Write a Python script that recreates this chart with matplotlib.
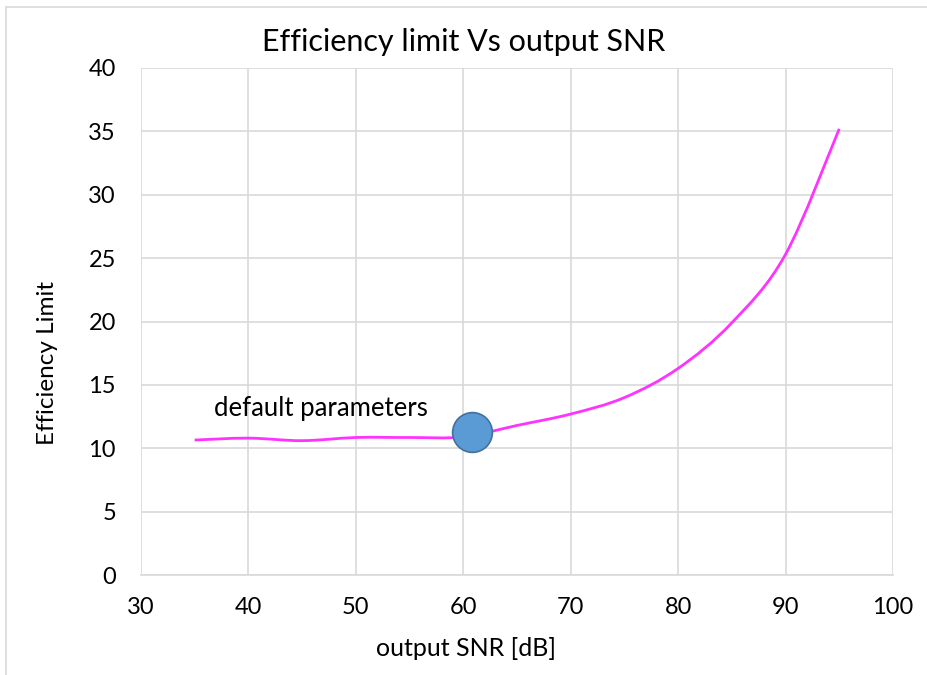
import numpy as np
import matplotlib
matplotlib.use("Agg")
import matplotlib.pyplot as plt
from matplotlib.path import Path
from matplotlib.patches import PathPatch, Rectangle

snr_db = [35, 40, 45, 50, 55, 60, 65, 70, 75, 80, 85, 90, 95]
eff_limit = [10.65, 10.8, 10.6, 10.85, 10.85, 10.9, 11.8, 12.7, 14.0,
             16.3, 19.9, 25.3, 35.2]
default_snr = [60.8]
default_eff = [11.3]

x_ticks = [30, 40, 50, 60, 70, 80, 90, 100]
y_ticks = [0, 5, 10, 15, 20, 25, 30, 35, 40]

INK = "#000000"
GRID = "#d9d9d9"
plt.rcParams.update({"font.family": ["Lato", "DejaVu Sans"]})


def smooth_path(x, y):
    # Excel-style smoothed line: cubic Bezier through every point
    p = np.column_stack([x, y]).astype(float)
    n = len(p)
    verts, codes = [p[0]], [Path.MOVETO]
    for i in range(n - 1):
        p0 = p[max(i - 1, 0)]
        p3 = p[min(i + 2, n - 1)]
        c1 = p[i] + (p[i + 1] - p0) / 6
        c2 = p[i + 1] - (p3 - p[i]) / 6
        verts += [c1, c2, p[i + 1]]
        codes += [Path.CURVE4] * 3
    return Path(verts, codes)


fig = plt.figure(figsize=(9.27, 6.75), dpi=100)
fig.patches.append(Rectangle((0.006, -0.01), 1.2, 0.999, transform=fig.transFigure,
                             fill=False, edgecolor=GRID, lw=1.2))
ax = fig.add_axes([0.1521, 0.1481, 0.8112, 0.7512])

ax.add_patch(PathPatch(smooth_path(snr_db, eff_limit), fill=False,
                       edgecolor="#ff33ff", lw=2.0, zorder=3))
ax.scatter(default_snr, default_eff, s=820, color="#5b9bd5",
           edgecolor="#41719c", lw=1.2, zorder=4)
ax.text(36.8, 13.1, "default parameters", fontsize=18.5, color=INK,
        va="center", ha="left")

ax.set_xlim(30, 100)
ax.set_ylim(0, 40)
ax.set_xticks(x_ticks)
ax.set_yticks(y_ticks)
ax.tick_params(length=0, labelsize=17, colors=INK)
ax.tick_params(axis="y", pad=18)
ax.tick_params(axis="x", pad=16)
ax.grid(True, color=GRID, lw=1.2)
ax.set_axisbelow(True)
for s in ("top", "right", "left"):
    ax.spines[s].set_visible(False)
ax.spines["bottom"].set_color(GRID)
ax.spines["bottom"].set_linewidth(1.2)

fig.text(0.503, 0.04, "output SNR [dB]", fontsize=18, color=INK,
         ha="center", va="center")
fig.text(0.051, 0.462, "Efficiency Limit", fontsize=17.5, color=INK,
         ha="center", va="center", rotation=90)
fig.text(0.5005, 0.938, "Efficiency limit Vs output SNR", fontsize=22,
         ha="center", va="center", color=INK)

fig.savefig("out.png", dpi=100)
